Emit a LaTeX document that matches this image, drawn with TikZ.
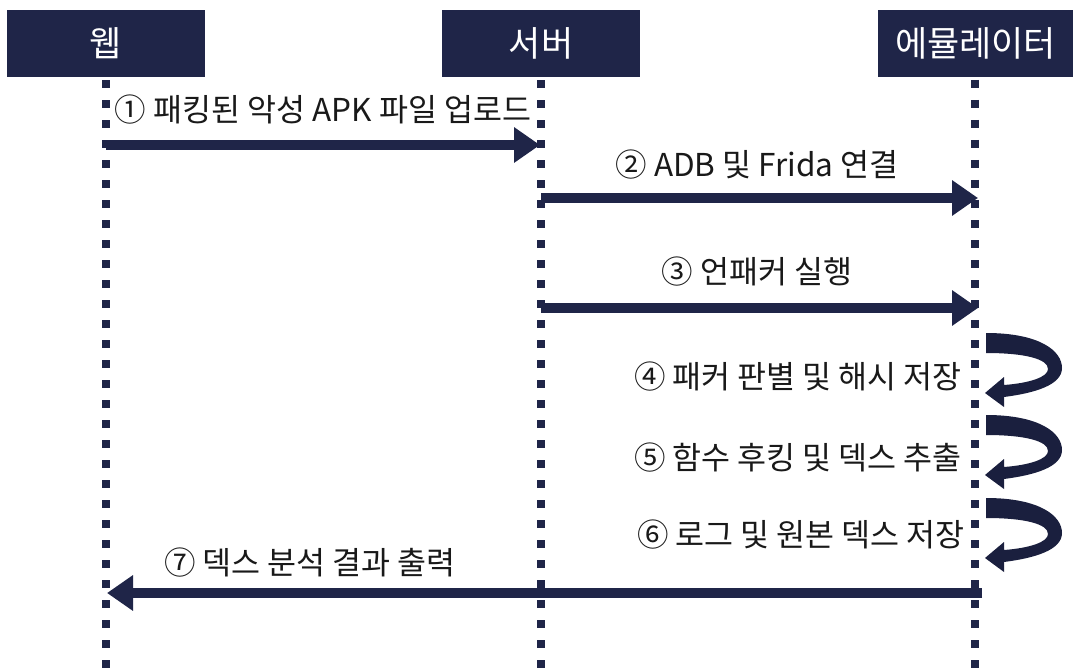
\documentclass[tikz,border=0pt]{standalone}
\usepackage{fontspec}
\setmainfont{Noto Sans CJK KR}
\usetikzlibrary{arrows.meta}
\definecolor{navy}{HTML}{1F2548}
\definecolor{navyd}{HTML}{1A1F3E}
\begin{document}
\begin{tikzpicture}[x=1pt,y=-1pt,
  head/.style={fill=navy, text=white, font=\fontsize{35}{40}\selectfont, minimum height=67pt, inner sep=0pt},
  life/.style={draw=navy, line width=8pt, dash pattern=on 8pt off 12pt},
  msg/.style={draw=navy, line width=10pt, -{Triangle[length=26pt,width=34pt]}},
  lbl/.style={font=\fontsize{31.5}{36}\selectfont, text=black!90, inner sep=0pt},
  loopar/.style={fill=navyd, draw=none}]
\useasboundingbox (0,0) rectangle (1073,671);
\fill[white] (0,0) rectangle (1073,671);
% headers
\node[head, minimum width=198pt] (web) at (106,43.5) {웹};
\node[head, minimum width=198pt] (srv) at (541,43.5) {서버};
\node[head, minimum width=195pt] (emu) at (975.5,43.5) {에뮬레이터};
\coordinate (bot) at (0,671);
% lifelines
\draw[life] ([yshift=-3pt]web.south) -- (web.south |- bot);
\draw[life] ([yshift=-3pt]srv.south) -- (srv.south |- bot);
\draw[life] ([yshift=-3pt]975,77) coordinate (emutop) -- (emutop |- bot);
% message coordinates
\coordinate (w1) at (106,145); \coordinate (s1) at (540,145);
\coordinate (s2) at (541,198); \coordinate (e2) at (978,198);
\coordinate (s3) at (541,308); \coordinate (e3) at (978,308);
\coordinate (e7) at (982,593); \coordinate (w7) at (107,593);
% messages
\draw[msg] (w1) -- (s1);
\draw[msg] (s2) -- (e2);
\draw[msg] (s3) -- (e3);
\draw[msg] (e7) -- (w7);
% labels
\node[lbl] (l1) at (323,110) {① 패킹된 악성 APK 파일 업로드};
\node[lbl] (l2) at (757,165) {② ADB 및 Frida 연결};
\node[lbl] (l3) at (757,272) {③ 언패커 실행};
\node[lbl, anchor=east] (l4) at (962,377) {④ 패커 판별 및 해시 저장};
\node[lbl, anchor=east] (l5) at (962,458) {⑤ 함수 후킹 및 덱스 추출};
\node[lbl, anchor=east] (l6) at (965,535) {⑥ 로그 및 원본 덱스 저장};
\node[lbl] (l7) at (310,563) {⑦ 덱스 분석 결과 출력};
% self loops
\foreach \yy in {333,415,498}{
\begin{scope}[shift={(0,\yy)}]
\fill[loopar] (986,0) .. controls (1040,0) and (1062,18) .. (1062,35)
  .. controls (1062,52) and (1035,60) .. (1004,64)
  -- (1004,74) -- (985,60) -- (1004,44) -- (1004,52)
  .. controls (1030,50) and (1048,44) .. (1048,36)
  .. controls (1048,26) and (1025,20) .. (986,20) -- cycle;
\end{scope}
}
\end{tikzpicture}
\end{document}
